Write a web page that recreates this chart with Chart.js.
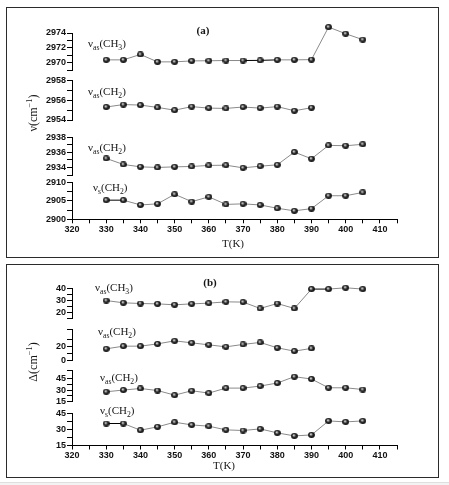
<!DOCTYPE html>
<html>
<head>
<meta charset="utf-8">
<title>Band positions and widths vs temperature</title>
<script src="https://cdn.jsdelivr.net/npm/chart.js@4.4.1/dist/chart.umd.min.js"></script>
<style>
  html, body { margin: 0; padding: 0; background: #fff; }
  body { width: 449px; height: 485px; position: relative; overflow: hidden; }
  .panel { position: absolute; left: 6px; width: 431px; border: 1px solid #2b2b2b; background: #fff; }
  #panelA { top: 7px; height: 249px; }
  #panelB { top: 264px; height: 212px; }
  .panel canvas { position: absolute; left: 0; top: 0; }
  #foot { position: absolute; left: 0; top: 482px; width: 449px; height: 3px; background: #f3f3f3; border-top: 1px solid #e0e0e0; }
</style>
</head>
<body>
<div class="panel" id="panelA"><canvas id="chartA" width="431" height="249" style="width:431px;height:249px"></canvas></div>
<div class="panel" id="panelB"><canvas id="chartB" width="431" height="212" style="width:431px;height:212px"></canvas></div>
<div id="foot"></div>
<script>
// temperatures, K
const temps = [330, 335, 340, 345, 350, 355, 360, 365, 370, 375, 380, 385, 390, 395, 400, 405];

// (a) band positions, cm-1
const nuAsCH3 = [2970.37, 2970.37, 2971.1, 2970.1, 2970.1, 2970.23, 2970.25, 2970.28, 2970.28, 2970.3, 2970.37, 2970.37, 2970.4, 2974.8, 2973.9, 2973.1];
const nuAsCH2Hi = [2955.32, 2955.57, 2955.52, 2955.28, 2955.0, 2955.36, 2955.21, 2955.18, 2955.32, 2955.21, 2955.36, 2954.94, 2955.25];
const nuAsCH2 = [2935.2, 2934.4, 2934.08, 2934.0, 2934.08, 2934.13, 2934.27, 2934.3, 2933.95, 2934.17, 2934.35, 2936.04, 2935.15, 2936.93, 2936.88, 2937.07];
const nuSCH2 = [2905.2, 2905.2, 2903.9, 2904.2, 2906.8, 2904.8, 2906.1, 2904.05, 2904.2, 2903.9, 2903.0, 2902.3, 2902.9, 2906.4, 2906.4, 2907.3];

// (b) band widths, cm-1
const dAsCH3 = [29.8, 27.9, 27.3, 27.0, 26.2, 27.0, 27.6, 28.7, 28.5, 23.1, 27.3, 23.1, 39.5, 39.5, 40.6, 39.5];
const dAsCH2Hi = [16.3, 20.2, 20.2, 23.5, 27.9, 25.0, 22.1, 19.2, 22.7, 25.6, 17.8, 13.0, 16.9];
const dAsCH2 = [27.9, 30.1, 32.1, 29.5, 23.6, 29.2, 26.2, 32.6, 32.6, 35.2, 39.1, 47.2, 44.2, 33.0, 33.0, 30.8];
const dSCH2 = [35.4, 35.4, 29.2, 32.3, 36.6, 34.1, 32.9, 29.5, 28.9, 30.4, 26.7, 23.9, 24.8, 37.8, 36.9, 37.8];

// tick labels
const xTickLabels = [320, 330, 340, 350, 360, 370, 380, 390, 400, 410];
const yTicksA1 = [2970, 2972, 2974];
const yTicksA2 = [2954, 2956, 2958];
const yTicksA3 = [2934, 2936, 2938];
const yTicksA4 = [2900, 2905, 2910];
const yTicksB1 = [20, 30, 40];
const yTicksB2 = [0, 20, 40];
const yTicksB3 = [15, 30, 45];
const yTicksB4 = [15, 30, 45];

const tickFont = { family: '"Liberation Sans", Arial, sans-serif', size: 9, weight: 'bold' };
const lineGray = '#8a8a8a';

// little shaded ball used as the marker
function makeSphere() {
  const c = document.createElement('canvas');
  c.width = 7; c.height = 6;
  const g = c.getContext('2d');
  const grad = g.createRadialGradient(2.8, 2.2, 0.1, 3.5, 3, 3.6);
  grad.addColorStop(0, '#ffffff');
  grad.addColorStop(0.2, '#9a9a9a');
  grad.addColorStop(0.5, '#2a2a2a');
  grad.addColorStop(1, '#000');
  g.fillStyle = grad;
  g.beginPath();
  g.ellipse(3.5, 3, 3.4, 2.9, 0, 0, Math.PI * 2);
  g.fill();
  return c;
}
const sphere = makeSphere();

function lineSet(vals, axis, blackFrom) {
  return {
    data: vals.map((v, i) => ({ x: temps[i], y: v })),
    yAxisID: axis,
    borderColor: lineGray,
    borderWidth: 1,
    segment: { borderColor: c => (blackFrom.includes(c.p0.parsed.x) ? '#000' : lineGray) },
    pointStyle: sphere,
    pointRadius: 7,
    pointHoverRadius: 7,
    pointBorderWidth: 0,
    tension: 0,
    fill: false,
    clip: false
  };
}

function hasLabel(list, v) {
  return list.some(t => Math.abs(t - v) < 1e-6);
}

function subAxis(min, max, step, labels, stackWeight, weight) {
  return {
    type: 'linear', position: 'left', stack: 'p', stackWeight, weight, min, max,
    afterFit: s => { s.width = 65; },
    border: { color: '#000', width: 1 },
    grid: { drawOnChartArea: false, tickLength: 5, tickColor: '#000', tickWidth: 1 },
    ticks: {
      stepSize: step, padding: 1, color: '#111', font: tickFont, autoSkip: false,
      callback: v => (hasLabel(labels, v) ? String(v) : '')
    }
  };
}

function gapAxis(stackWeight, weight) {
  return { type: 'linear', display: false, position: 'left', stack: 'p', stackWeight, weight, min: 0, max: 1 };
}

function xAxis(height) {
  return {
    type: 'linear', position: 'bottom', min: 320, max: 415,
    afterFit: s => { s.height = height; },
    border: { color: '#000', width: 1 },
    grid: { drawOnChartArea: false, tickLength: 4, tickColor: '#000', tickWidth: 1 },
    ticks: {
      stepSize: 5, padding: 1, maxRotation: 0, autoSkip: false, color: '#111', font: tickFont,
      callback: v => (hasLabel(xTickLabels, v) ? String(v) : '')
    }
  };
}

// text with sub/superscripts: parts = [[text, 0 normal | 1 sub | 2 sup], ...]
function drawRich(ctx, parts, x, y, size, bold, align) {
  const fontFor = m => (bold ? 'bold ' : '') + (m ? size * 0.7 : size) + 'px "Liberation Serif", "DejaVu Serif", serif';
  let total = 0;
  for (const [t, m] of parts) { ctx.font = fontFor(m); total += ctx.measureText(t).width; }
  let cx = align === 'center' ? x - total / 2 : x;
  for (const [t, m] of parts) {
    ctx.font = fontFor(m);
    const dy = m === 1 ? size * 0.3 : (m === 2 ? -size * 0.42 : 0);
    ctx.fillText(t, cx, y + dy);
    cx += ctx.measureText(t).width;
  }
}

function textLayer(items, ox, oy) {
  return {
    id: 'textLayer',
    afterDraw(chart) {
      const ctx = chart.ctx;
      ctx.save();
      ctx.fillStyle = '#151515';
      ctx.textAlign = 'left';
      ctx.textBaseline = 'alphabetic';
      for (const it of items) {
        const x = it.x - ox, y = it.y - oy;
        if (it.rotate) {
          ctx.save();
          ctx.translate(x, y);
          ctx.rotate(-Math.PI / 2);
          drawRich(ctx, it.parts, 0, it.size * 0.35, it.size, it.bold, 'center');
          ctx.restore();
        } else {
          drawRich(ctx, it.parts, x, y, it.size, it.bold, it.align);
        }
      }
      ctx.restore();
    }
  };
}

const asCH3 = [['ν', 0], ['as', 1], ['(CH', 0], ['3', 1], [')', 0]];
const asCH2 = [['ν', 0], ['as', 1], ['(CH', 0], ['2', 1], [')', 0]];
const sCH2 = [['ν', 0], ['s', 1], ['(CH', 0], ['2', 1], [')', 0]];
const tK = [['T(K)', 0]];

function makeChart(id, datasets, scales, padTop, texts, ox, oy) {
  return new Chart(document.getElementById(id), {
    type: 'line',
    data: { datasets },
    options: {
      responsive: false,
      animation: false,
      events: [],
      layout: { padding: { left: 0, top: padTop, right: 41, bottom: 0 } },
      plugins: { legend: { display: false }, tooltip: { enabled: false } },
      scales
    },
    plugins: [textLayer(texts, ox, oy)]
  });
}

makeChart('chartA', [
  lineSet(nuAsCH3, 'y1', [370, 375]),
  lineSet(nuAsCH2Hi, 'y2', []),
  lineSet(nuAsCH2, 'y3', []),
  lineSet(nuSCH2, 'y4', [330])
], {
  x: xAxis(37.7),
  y1: subAxis(2969, 2974, 1, yTicksA1, 37, 7),
  g1: gapAxis(10.7, 6),
  y2: subAxis(2954, 2958, 1, yTicksA2, 39.3, 5),
  g2: gapAxis(17.3, 4),
  y3: subAxis(2933, 2938, 1, yTicksA3, 37.7, 3),
  g3: gapAxis(7.5, 2),
  y4: subAxis(2900, 2910, 2.5, yTicksA4, 36.8, 1)
}, 25, [
  { parts: [['(a)', 0]], x: 203, y: 34, size: 11, bold: true, align: 'center' },
  { parts: asCH3, x: 88, y: 47, size: 11 },
  { parts: asCH2, x: 88, y: 95, size: 11 },
  { parts: asCH2, x: 88, y: 151, size: 11 },
  { parts: sCH2, x: 93, y: 191, size: 11 },
  { parts: tK, x: 233, y: 247, size: 11, align: 'center' },
  { parts: [['ν(cm', 0], ['−1', 2], [')', 0]], x: 33, y: 113, size: 12, rotate: true }
], 7, 8);

makeChart('chartB', [
  lineSet(dAsCH3, 'y1', [390]),
  lineSet(dAsCH2Hi, 'y2', []),
  lineSet(dAsCH2, 'y3', []),
  lineSet(dSCH2, 'y4', [330])
], {
  x: xAxis(31.5),
  y1: subAxis(15, 40, 5, yTicksB1, 29.5, 7),
  g1: gapAxis(11, 6),
  y2: subAxis(0, 45, 10, yTicksB2, 31, 5),
  g2: gapAxis(10.5, 4),
  y3: subAxis(15, 55, 7.5, yTicksB3, 31.2, 3),
  g3: gapAxis(11.3, 2),
  y4: subAxis(15, 45, 7.5, yTicksB4, 32.3, 1)
}, 23.5, [
  { parts: [['(b)', 0]], x: 210, y: 286, size: 11, bold: true, align: 'center' },
  { parts: asCH3, x: 95, y: 291, size: 11 },
  { parts: asCH2, x: 98, y: 335, size: 11 },
  { parts: asCH2, x: 100, y: 381, size: 11 },
  { parts: sCH2, x: 100, y: 414, size: 11 },
  { parts: tK, x: 224, y: 469, size: 11, align: 'center' },
  { parts: [['Δ(cm', 0], ['−1', 2], [')', 0]], x: 33, y: 362, size: 12, rotate: true }
], 7, 265);
</script>
</body>
</html>
